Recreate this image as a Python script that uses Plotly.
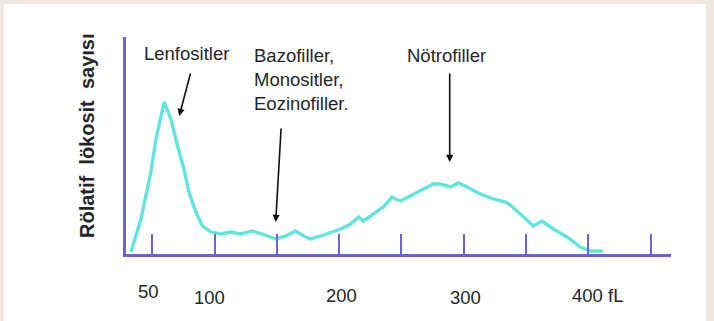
import plotly.graph_objects as go

# Leukocyte volume histogram (fL) and relative cell count
volume_fl = [32.8, 40.8, 48.8, 52.8, 59.5, 64.8, 70.2, 75.3, 79.3, 84.9,
             90.2, 96.9, 104.9, 112.9, 120.9, 130.3, 138.3, 149.0, 157.0, 165.0,
             171.4, 177.1, 185.1, 195.5, 201.1, 209.1, 215.5, 219.5, 227.5, 235.4,
             242.5, 245.1, 249.2, 259.6, 267.5, 275.6, 281.3, 289.3, 295.7, 302.7,
             313.3, 323.7, 333.4, 337.4, 345.4, 355.8, 362.8, 371.9, 382.9, 393.6,
             401.5, 411.9]
rel_count = [2, 35, 82, 115, 152, 135, 108, 85, 62, 42,
             28, 22, 20, 22, 20, 23, 20, 15, 18, 23,
             18, 15, 18, 22, 25, 30, 37, 33, 40, 47,
             57, 55, 53, 60, 65, 70, 70, 67, 71, 67,
             60, 55, 52, 49, 40, 28, 33, 25, 17, 7,
             3, 3]

tick_values = [50, 100, 150, 200, 250, 300, 350, 400, 450]
label_values = [50, 100, 200, 300, 400]
label_texts = ["50", "100", "200", "300", "400 fL"]

# Cell populations: label text, arrow head (fL, count), arrow tail (fL, count)
pop_names = ["Lenfositler", "Bazofiller,<br>Monositler,<br>Eozinofiller.", "Nötrofiller"]
arrow_heads = [(71.5, 138), (149.0, 32), (288.7, 92)]
arrow_tails = [(80.9, 182), (153.4, 127), (288.7, 182)]

W, H = 714, 321
L, R, T, B = 126, 43, 37, 67
X_RANGE = [28.8, 466.4]
Y_RANGE = [0, 217]

AXIS_COLOR = "#6a62d8"
CURVE_COLOR = "#62e4df"
TEXT_COLOR = "#262626"
FRAME_COLOR = "#efe8e2"
FONT = "Liberation Sans, Arial, sans-serif"

plot_w = W - L - R
plot_h = H - T - B


def px_x(px):
    return (px - L) / plot_w


def px_y(py):
    return (H - B - py) / plot_h


fig = go.Figure()
fig.add_trace(go.Scatter(
    x=volume_fl, y=rel_count, mode="lines",
    line=dict(color=CURVE_COLOR, width=3.4),
    hoverinfo="skip", showlegend=False, cliponaxis=False,
))

annotations = []

# y-axis title
annotations.append(dict(
    text="<b>Rölatif\u00a0\u00a0lökosit\u00a0\u00a0sayısı</b>",
    xref="paper", yref="paper", x=px_x(87), y=px_y(136),
    xanchor="center", yanchor="middle", textangle=-90, showarrow=False,
    font=dict(family=FONT, size=20, color=TEXT_COLOR),
))

# x tick labels, placed below the axis
label_nudge = {"50": (-4, 291), "100": (-5, 297), "200": (2, 295),
               "300": (2, 297), "400 fL": (9, 295)}
for val, txt in zip(label_values, label_texts):
    dx, py = label_nudge[txt]
    annotations.append(dict(
        text=txt, xref="x", yref="paper", x=val, y=px_y(py),
        xshift=dx, xanchor="center", yanchor="middle", showarrow=False,
        font=dict(family=FONT, size=18.5, color=TEXT_COLOR),
    ))

# population labels
label_pos = [(186, "center", 49), (252, "left", 51), (446, "center", 51)]
for name, (px, anchor, py) in zip(pop_names, label_pos):
    annotations.append(dict(
        text=name, xref="paper", yref="paper", x=px_x(px), y=px_y(py - 8),
        xanchor=anchor, yanchor="top", align="left", showarrow=False,
        font=dict(family=FONT, size=18.5, color=TEXT_COLOR),
    ))

# arrows pointing at each population
for (hx, hy), (tx, ty) in zip(arrow_heads, arrow_tails):
    annotations.append(dict(
        x=hx, y=hy, ax=tx, ay=ty, xref="x", yref="y", axref="x", ayref="y",
        text="", showarrow=True, arrowhead=2, arrowsize=0.9, arrowwidth=1.6,
        arrowcolor="#111111", standoff=0,
    ))

# light frame along the picture edges
shapes = [
    dict(type="rect", xref="paper", yref="paper", layer="below",
         x0=px_x(0), x1=px_x(W), y0=px_y(4), y1=px_y(0),
         fillcolor=FRAME_COLOR, line=dict(width=0)),
    dict(type="rect", xref="paper", yref="paper", layer="below",
         x0=px_x(0), x1=px_x(4), y0=px_y(H), y1=px_y(0),
         fillcolor=FRAME_COLOR, line=dict(width=0)),
    dict(type="rect", xref="paper", yref="paper", layer="below",
         x0=px_x(706), x1=px_x(W), y0=px_y(H), y1=px_y(0),
         fillcolor=FRAME_COLOR, line=dict(width=0)),
]

fig.update_layout(
    width=W, height=H,
    margin=dict(l=L, r=R, t=T, b=B),
    paper_bgcolor="white", plot_bgcolor="white",
    annotations=annotations, shapes=shapes,
    xaxis=dict(range=X_RANGE, showgrid=False, zeroline=False,
               showline=True, linecolor=AXIS_COLOR, linewidth=3,
               ticks="inside", ticklen=20, tickwidth=2.2, tickcolor=AXIS_COLOR,
               tickvals=tick_values, showticklabels=False, fixedrange=True),
    yaxis=dict(range=Y_RANGE, showgrid=False, zeroline=False,
               showline=True, linecolor=AXIS_COLOR, linewidth=3,
               ticks="", showticklabels=False, fixedrange=True),
    showlegend=False,
)

fig.write_html("out.html", config={"displayModeBar": False})
